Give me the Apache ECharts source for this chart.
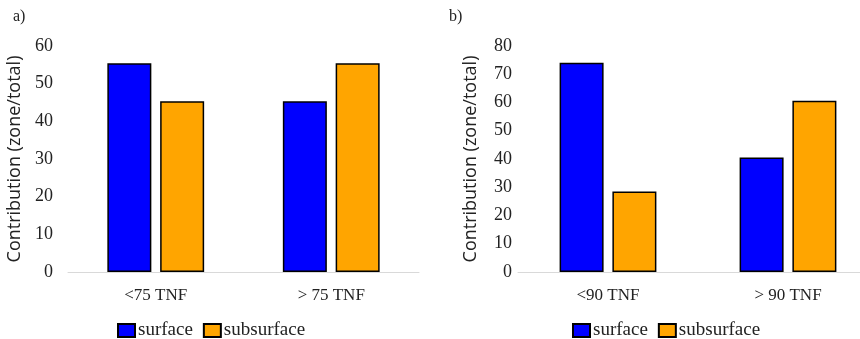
<!DOCTYPE html>
<html>
<head>
<meta charset="utf-8">
<script src="https://cdn.jsdelivr.net/npm/echarts@6/dist/echarts.min.js"></script>
<style>html,body{margin:0;padding:0;background:#fff;overflow:hidden;width:860px;height:339px;}#c{width:880px;height:339px;}</style>
</head>
<body>
<div id="c"></div>
<script>
const categoriesA = ['<75 TNF', '> 75 TNF'];
const surfaceA = [55.4, 45.3];
const subsurfaceA = [45.3, 55.4];
const categoriesB = ['<90 TNF', '> 90 TNF'];
const surfaceB = [74.1, 40.5];
const subsurfaceB = [28.5, 60.6];
const ticksA = {min: 0, max: 60, interval: 10};
const ticksB = {min: 0, max: 80, interval: 10};
const yName = 'Contribution (zone/total)';
const seriesNames = ['surface', 'subsurface'];

const serif = 'Liberation Serif';
const sans = 'Open Sans';
const colSurf = '#0000ff', colSub = '#ffa500';

const chart = echarts.init(document.getElementById('c'), null, {renderer: 'canvas'});

function xAx(cats, gi) {
  return {
    type: 'category', data: cats, gridIndex: gi,
    axisLine: {lineStyle: {color: '#d9d9d9', width: 1}},
    axisTick: {show: false},
    axisLabel: {fontFamily: serif, fontSize: 17, color: '#222', margin: 15}
  };
}
function yAx(t, gi, gap) {
  return {
    type: 'value', gridIndex: gi, min: t.min, max: t.max, interval: t.interval,
    name: yName, nameLocation: 'middle', nameGap: gap, nameRotate: 90,
    nameTextStyle: {fontFamily: sans, fontSize: 18, color: '#222'},
    axisLine: {show: false}, axisTick: {show: false}, splitLine: {show: false},
    axisLabel: {fontFamily: serif, fontSize: 18, color: '#222', margin: gi === 0 ? 15 : 6}
  };
}
function bar(name, data, color, gi) {
  return {
    type: 'bar', name: name, data: data, xAxisIndex: gi, yAxisIndex: gi,
    barWidth: 44, barGap: '20%',
    itemStyle: {color: color, borderColor: '#000', borderWidth: 1.5}
  };
}
function legend(left) {
  return {
    data: seriesNames, left: left, top: 316, itemWidth: 17, itemHeight: 13, itemGap: 10,
    icon: 'rect', selectedMode: false,
    textStyle: {fontFamily: serif, fontSize: 19, color: '#222', padding: [0, 0, 0, -2]}
  };
}

chart.setOption({
  animation: false,
  title: [
    {text: 'a)', left: 8, top: 4, textStyle: {fontFamily: serif, fontSize: 16, fontWeight: 'normal', color: '#222'}},
    {text: 'b)', left: 444, top: 4, textStyle: {fontFamily: serif, fontSize: 16, fontWeight: 'normal', color: '#222'}}
  ],
  grid: [
    {left: 68, width: 351, top: 46, bottom: 67},
    {left: 518, width: 360, top: 46, bottom: 67}
  ],
  xAxis: [xAx(categoriesA, 0), xAx(categoriesB, 1)],
  yAxis: [yAx(ticksA, 0, 44), yAx(ticksB, 1, 38)],
  legend: [legend(112), legend(567)],
  series: [
    bar(seriesNames[0], surfaceA, colSurf, 0),
    bar(seriesNames[1], subsurfaceA, colSub, 0),
    bar(seriesNames[0], surfaceB, colSurf, 1),
    bar(seriesNames[1], subsurfaceB, colSub, 1)
  ]
});
</script>
</body>
</html>
